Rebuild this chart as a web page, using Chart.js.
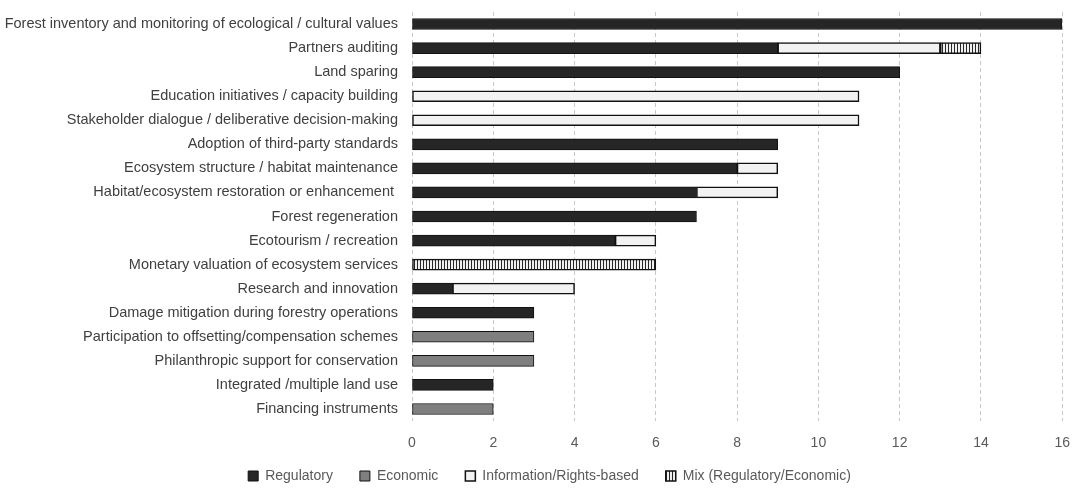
<!DOCTYPE html>
<html>
<head>
<meta charset="utf-8">
<script src="https://cdn.jsdelivr.net/npm/chart.js@4.4.0/dist/chart.umd.min.js"></script>
<style>
  html, body { margin: 0; padding: 0; background: #fff; }
  #wrap { width: 1084px; height: 497px; }
</style>
</head>
<body>
<div id="wrap"><canvas id="chart1"></canvas></div>
<script>
const categories = [
  'Forest inventory and monitoring of ecological / cultural values',
  'Partners auditing',
  'Land sparing',
  'Education initiatives / capacity building',
  'Stakeholder dialogue / deliberative decision-making',
  'Adoption of third-party standards',
  'Ecosystem structure / habitat maintenance',
  'Habitat/ecosystem restoration or enhancement ',
  'Forest regeneration',
  'Ecotourism / recreation',
  'Monetary valuation of ecosystem services',
  'Research and innovation',
  'Damage mitigation during forestry operations',
  'Participation to offsetting/compensation schemes',
  'Philanthropic support for conservation',
  'Integrated /multiple land use',
  'Financing instruments'
];
const regulatory = [16, 9, 12, 0, 0, 9, 8, 7, 7, 5, 0, 1, 3, 0, 0, 2, 0];
const economic   = [0, 0, 0, 0, 0, 0, 0, 0, 0, 0, 0, 0, 0, 3, 3, 0, 2];
const information = [0, 4, 0, 11, 11, 0, 1, 2, 0, 1, 0, 3, 0, 0, 0, 0, 0];
const mix        = [0, 1, 0, 0, 0, 0, 0, 0, 0, 0, 6, 0, 0, 0, 0, 0, 0];
const xTicks = [0, 2, 4, 6, 8, 10, 12, 14, 16];

// vertical stripe pattern for the mixed category
function stripes() {
  const c = document.createElement('canvas');
  c.width = 3; c.height = 4;
  const g = c.getContext('2d');
  g.fillStyle = '#f0f0f0';
  g.fillRect(0, 0, 3, 4);
  g.fillStyle = '#262626';
  g.fillRect(0, 0, 1, 4);
  return g.createPattern(c, 'repeat');
}
const mixFill = stripes();

const font = "'Liberation Sans', Arial, sans-serif";

// centre the legend on the whole canvas and lift it a little
const shiftLegend = {
  id: 'shiftLegend',
  afterLayout(chart) {
    const lg = chart.legend;
    if (lg) {
      lg.left += 17; lg.right += 17;
      lg.top -= 5; lg.bottom -= 5;
    }
  }
};

const ctx1 = document.getElementById('chart1').getContext('2d');
const chart1 = new Chart(ctx1, {
  type: 'bar',
  data: {
    labels: categories,
    datasets: [
      { label: 'Regulatory', data: regulatory, backgroundColor: '#262626', borderColor: '#111', borderWidth: 1 },
      { label: 'Economic', data: economic, backgroundColor: '#7f7f7f', borderColor: '#111', borderWidth: 1 },
      { label: 'Information/Rights-based', data: information, backgroundColor: '#f2f2f2', borderColor: '#111', borderWidth: 1.5 },
      { label: 'Mix (Regulatory/Economic)', data: mix, backgroundColor: mixFill, borderColor: '#111', borderWidth: 1.5 }
    ]
  },
  options: {
    indexAxis: 'y',
    responsive: true,
    maintainAspectRatio: false,
    animation: false,
    datasets: { bar: { barThickness: 11, borderSkipped: false } },
    layout: { padding: { top: 12, right: 19, bottom: -1, left: 0 } },
    scales: {
      x: {
        stacked: true,
        min: 0, max: 16,
        afterBuildTicks: (s) => { s.ticks = xTicks.map(v => ({ value: v })); },
        afterFit: (s) => { s.height = 26; },
        grid: { color: '#c8c8c8', lineWidth: 1, drawTicks: false },
        border: { display: false, dash: [4, 3] },
        ticks: { color: '#595959', font: { family: font, size: 14 }, padding: 14 }
      },
      y: {
        stacked: true,
        afterFit: (s) => { s.width = 412; s.paddingTop = 0; s.paddingBottom = 0; },
        grid: { display: false },
        border: { display: false },
        ticks: { color: '#404040', font: { family: font, size: 14.5 }, padding: 6, autoSkip: false }
      }
    },
    plugins: {
      legend: {
        position: 'bottom',
        labels: {
          color: '#595959',
          font: { family: font, size: 14 },
          boxWidth: 10, boxHeight: 10,
          padding: 27
        }
      },
      tooltip: { enabled: false }
    }
  },
  plugins: [shiftLegend]
});
</script>
</body>
</html>
